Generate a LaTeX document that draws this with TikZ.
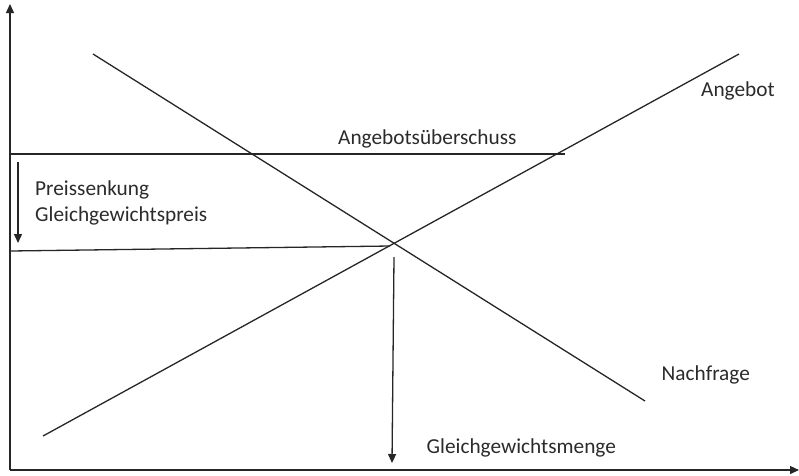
\documentclass[tikz,border=0pt]{standalone}
\usepackage{fontspec}
\setmainfont{Carlito}
\usetikzlibrary{arrows.meta}
\definecolor{txt}{HTML}{2B2B2B}
\tikzset{
  ln/.style={line width=1.3pt, black!85},
  arr/.style={ln, -{Triangle[length=9pt,width=8pt]}},
  lbl/.style={anchor=base west, inner sep=0pt, text=txt, font=\fontsize{21.3pt}{25pt}\selectfont}
}
\begin{document}
\begin{tikzpicture}[x=1pt,y=-1pt]
\useasboundingbox (0,0) rectangle (799,475);
% axes
\coordinate (O) at (10,470);
\coordinate (Ytop) at (10,4);
\coordinate (Xend) at (799,470);
\draw[arr] (O) -- (Ytop);
\draw[arr] (O) -- (Xend);
% supply and demand
\coordinate (S1) at (43,436);
\coordinate (S2) at (739,54);
\coordinate (D1) at (93,54);
\coordinate (D2) at (645,401);
\draw[ln] (S1) -- (S2);
\draw[ln] (D1) -- (D2);
% horizontal lines
\coordinate (H1a) at (10,154);
\coordinate (H1b) at (565,154);
\draw[ln] (H1a) -- (H1b);
\coordinate (H2a) at (10,251);
\coordinate (H2b) at (390,246);
\draw[ln] (H2a) -- (H2b);
% arrows
\coordinate (A1a) at (18,162);
\coordinate (A1b) at (18,243);
\draw[arr] (A1a) -- (A1b);
\coordinate (A2a) at (394,257);
\coordinate (A2b) at (392,463);
\draw[arr] (A2a) -- (A2b);
% labels
\node[lbl] (uber) at (338,144) {Angebotsüberschuss};
\node[lbl] (senk) at (35,195) {Preissenkung};
\node[lbl] (gpreis) at (35,221.5) {Gleichgewichtspreis};
\node[lbl] (ang) at (701,96) {Angebot};
\node[lbl] (nach) at (661.5,380) {Nachfrage};
\node[lbl] (menge) at (426.5,453) {Gleichgewichtsmenge};
\end{tikzpicture}
\end{document}
